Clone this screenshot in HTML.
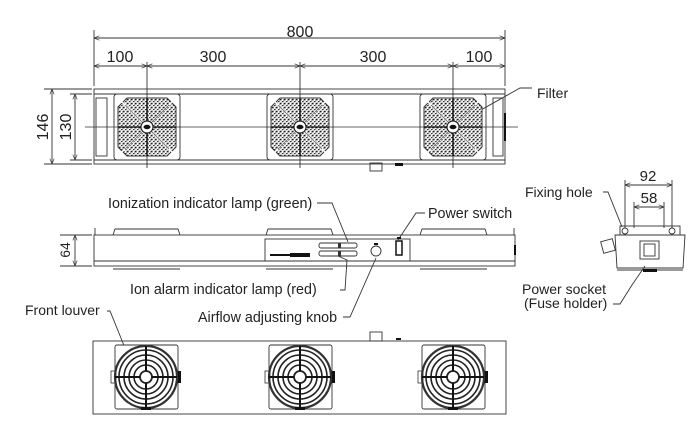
<!DOCTYPE html>
<html><head><meta charset="utf-8"><style>
html,body{margin:0;padding:0;background:#fff;}
svg{display:block;}
text{font-family:"Liberation Sans",sans-serif;fill:#222;}
</style></head><body>
<svg width="696" height="427" viewBox="0 0 696 427" xmlns="http://www.w3.org/2000/svg">
<defs>
<pattern id="st" width="4" height="4" patternUnits="userSpaceOnUse">
<rect width="4" height="4" fill="#fff"/>
<rect x="0" y="0" width="1.6" height="1.4" fill="#222"/>
<rect x="2" y="2" width="1.6" height="1.2" fill="#333"/>
<rect x="3" y="0.5" width="1" height="1" fill="#555"/>
<rect x="0.5" y="2.8" width="1" height="1" fill="#666"/>
</pattern>
<marker id="ar" viewBox="0 0 10 10" refX="10" refY="5" markerWidth="6" markerHeight="6" orient="auto-start-reverse"><path d="M0,1 L10,5 L0,9" fill="none" stroke="#333" stroke-width="1.2"/></marker>
<g id="filt">
<rect x="-33" y="-33" width="66" height="66" rx="3" fill="none" stroke="#333" stroke-width="0.9"/>
<polygon points="-20,-29 20,-29 29,-20 29,20 20,29 -20,29 -29,20 -29,-20" fill="url(#st)" stroke="#333" stroke-width="1"/>
<line x1="-29" y1="-29" x2="29" y2="29" stroke="#fff" stroke-width="1.5"/>
<line x1="29" y1="-29" x2="-29" y2="29" stroke="#fff" stroke-width="1.5"/>
<line x1="-22" y1="-22" x2="22" y2="22" stroke="#444" stroke-width="0.6"/>
<line x1="22" y1="-22" x2="-22" y2="22" stroke="#444" stroke-width="0.6"/>
<line x1="0" y1="-29" x2="0" y2="29" stroke="#111" stroke-width="1.4"/>
<line x1="-29" y1="0" x2="29" y2="0" stroke="#111" stroke-width="1.2"/>
<circle r="6" fill="#fff" stroke="#222" stroke-width="1.2"/>
<ellipse rx="3.5" ry="2.2" fill="#111"/>
</g>
<g id="fan">
<rect x="-31" y="-32" width="63" height="64" rx="2" fill="#fff" stroke="#333" stroke-width="0.9"/>
<rect x="-35" y="-6" width="5" height="12" fill="#fff" stroke="#333" stroke-width="0.8"/>
<rect x="30" y="-6" width="5" height="12" fill="#111"/>
<circle r="31" fill="none" stroke="#333" stroke-width="2.2"/>
<circle r="27" fill="none" stroke="#222" stroke-width="1.6"/>
<circle r="22" fill="none" stroke="#222" stroke-width="1.6"/>
<circle r="17" fill="none" stroke="#222" stroke-width="1.6"/>
<circle r="12" fill="none" stroke="#222" stroke-width="1.6"/>
<circle r="6" fill="#fff" stroke="#222" stroke-width="1.8"/>
<line x1="-31" y1="0" x2="-6" y2="0" stroke="#111" stroke-width="2"/>
<line x1="6" y1="0" x2="31" y2="0" stroke="#111" stroke-width="2"/>
<line x1="0" y1="-31" x2="0" y2="-6" stroke="#111" stroke-width="2"/>
<line x1="0" y1="6" x2="0" y2="31" stroke="#111" stroke-width="2"/>
<rect x="-5" y="30" width="10" height="3" fill="#111"/>
</g>
</defs>

<g stroke="#333" stroke-width="0.9" fill="none">
<line x1="94" y1="30" x2="94" y2="86"/>
<line x1="505" y1="30" x2="505" y2="86"/>
<line x1="94" y1="38" x2="505" y2="38" marker-start="url(#ar)" marker-end="url(#ar)"/>
<line x1="94" y1="66" x2="147" y2="66" marker-start="url(#ar)" marker-end="url(#ar)"/>
<line x1="147" y1="66" x2="300" y2="66" marker-start="url(#ar)" marker-end="url(#ar)"/>
<line x1="300" y1="66" x2="453" y2="66" marker-start="url(#ar)" marker-end="url(#ar)"/>
<line x1="453" y1="66" x2="505" y2="66" marker-start="url(#ar)" marker-end="url(#ar)"/>
<line x1="147" y1="62" x2="147" y2="168"/>
<line x1="300" y1="62" x2="300" y2="168"/>
<line x1="453" y1="62" x2="453" y2="168"/>
<line x1="44" y1="89" x2="92" y2="89"/>
<line x1="44" y1="164" x2="92" y2="164"/>
<line x1="70" y1="94" x2="92" y2="94"/>
<line x1="70" y1="160" x2="92" y2="160"/>
<line x1="52" y1="89" x2="52" y2="164" marker-start="url(#ar)" marker-end="url(#ar)"/>
<line x1="75" y1="94" x2="75" y2="160" marker-start="url(#ar)" marker-end="url(#ar)"/>
<rect x="94" y="89" width="411" height="75"/>
<line x1="94" y1="94" x2="505" y2="94"/>
<line x1="94" y1="160" x2="505" y2="160"/>
<rect x="96" y="98" width="11" height="58"/>
<rect x="493" y="98" width="10" height="58"/>
<rect x="370" y="163" width="12" height="8"/>
<line x1="85" y1="127" x2="518" y2="127" stroke-width="0.8"/>
<polyline points="472,115 520,88 532,88"/>
</g>
<rect x="504" y="113" width="2" height="28" fill="#111"/>
<rect x="395" y="163" width="8" height="3" fill="#111"/>
<use href="#filt" x="147" y="127"/>
<use href="#filt" x="300" y="127"/>
<use href="#filt" x="453" y="127"/>
<text x="300" y="37" font-size="16" text-anchor="middle">800</text>
<text x="120" y="62" font-size="16" text-anchor="middle">100</text>
<text x="213" y="62" font-size="16" text-anchor="middle">300</text>
<text x="373" y="62" font-size="16" text-anchor="middle">300</text>
<text x="479" y="62" font-size="16" text-anchor="middle">100</text>
<text font-size="16" text-anchor="middle" transform="translate(48,127) rotate(-90)">146</text>
<text font-size="16" text-anchor="middle" transform="translate(71,127) rotate(-90)">130</text>
<text x="537" y="98" font-size="14">Filter</text>

<g stroke="#333" stroke-width="0.9" fill="none">
<rect x="94" y="235" width="421" height="31"/>
<line x1="94" y1="261" x2="515" y2="261"/>
<polyline points="113,235 115,229 178,229 180,235"/>
<polyline points="266,235 268,229 331,229 333,235"/>
<polyline points="420,235 422,229 485,229 487,235"/>
<polyline points="95,235 95,228"/>
<polyline points="514,235 514,228"/>
<line x1="113" y1="269" x2="180" y2="269"/>
<line x1="266" y1="269" x2="333" y2="269"/>
<line x1="420" y1="269" x2="487" y2="269"/>
<rect x="265" y="239" width="145" height="22"/>
<rect x="319" y="243" width="38" height="5" rx="2"/>
<rect x="319" y="251" width="38" height="5" rx="2"/>
<circle cx="376" cy="251" r="5"/>
<line x1="60" y1="235" x2="92" y2="235"/>
<line x1="60" y1="266" x2="92" y2="266"/>
<line x1="75" y1="235" x2="75" y2="266" marker-start="url(#ar)" marker-end="url(#ar)"/>
<polyline points="317,203 332,203 348,242"/>
<polyline points="340,290 345,290 347,260 338,256"/>
<polyline points="343,317 350,317 376,258"/>
<polyline points="425,213 416,213 398,240"/>
</g>
<rect x="270" y="254" width="40" height="2" fill="#111"/>
<rect x="290" y="253" width="20" height="4" fill="#111"/>
<rect x="338" y="243" width="3" height="5" fill="#333"/>
<rect x="338" y="251" width="3" height="5" fill="#333"/>
<rect x="396" y="241" width="6" height="14" fill="#fff" stroke="#111" stroke-width="1.5"/>
<rect x="397" y="237" width="4" height="2" fill="#111"/>
<rect x="374" y="243" width="4" height="2" fill="#111"/>
<rect x="514" y="245" width="2" height="10" fill="#111"/>
<text font-size="14" text-anchor="middle" transform="translate(70,250) rotate(-90)">64</text>
<text x="108" y="208" font-size="14.3">Ionization indicator lamp (green)</text>
<text x="428" y="218" font-size="14.3">Power switch</text>
<text x="130" y="294" font-size="14.3">Ion alarm indicator lamp (red)</text>
<text x="198" y="322" font-size="14.3">Airflow adjusting knob</text>
<text x="25" y="315" font-size="14">Front louver</text>

<g stroke="#333" stroke-width="0.9" fill="none">
<line x1="625" y1="180" x2="625" y2="228"/>
<line x1="672" y1="180" x2="672" y2="228"/>
<line x1="634" y1="202" x2="634" y2="228"/>
<line x1="664" y1="202" x2="664" y2="228"/>
<line x1="625" y1="185" x2="672" y2="185" marker-start="url(#ar)" marker-end="url(#ar)"/>
<line x1="634" y1="207" x2="664" y2="207" marker-start="url(#ar)" marker-end="url(#ar)"/>
<rect x="620" y="226" width="60" height="9"/>
<circle cx="625" cy="231" r="3"/>
<circle cx="672" cy="231" r="3"/>
<path d="M615,235 L685,235 L683,268 L617,268 Z"/>
<line x1="617" y1="270" x2="683" y2="270"/>
<rect x="602" y="240" width="12" height="12" transform="rotate(-15 608 246)"/>
<rect x="640" y="241" width="19" height="18"/>
<rect x="644" y="244" width="11" height="12"/>
<polyline points="603,192 608,192 622,227"/>
<polyline points="613,304 620,304 632,285 645,266"/>
</g>
<rect x="643" y="269" width="14" height="3" fill="#111"/>
<text x="648" y="181" font-size="15" text-anchor="middle">92</text>
<text x="649" y="203" font-size="15" text-anchor="middle">58</text>
<text x="525" y="197" font-size="14">Fixing hole</text>
<text x="522" y="294" font-size="14">Power socket</text>
<text x="524" y="308" font-size="14">(Fuse holder)</text>

<g stroke="#333" stroke-width="0.9" fill="none">
<rect x="93" y="341" width="413" height="73"/>
<rect x="370" y="332" width="12" height="9"/>
<polyline points="107,311 110,311 125,348"/>
</g>
<rect x="396" y="338" width="5" height="2" fill="#111"/>
<use href="#fan" x="146" y="377"/>
<use href="#fan" x="300" y="377"/>
<use href="#fan" x="453" y="377"/>
</svg>
</body></html>
